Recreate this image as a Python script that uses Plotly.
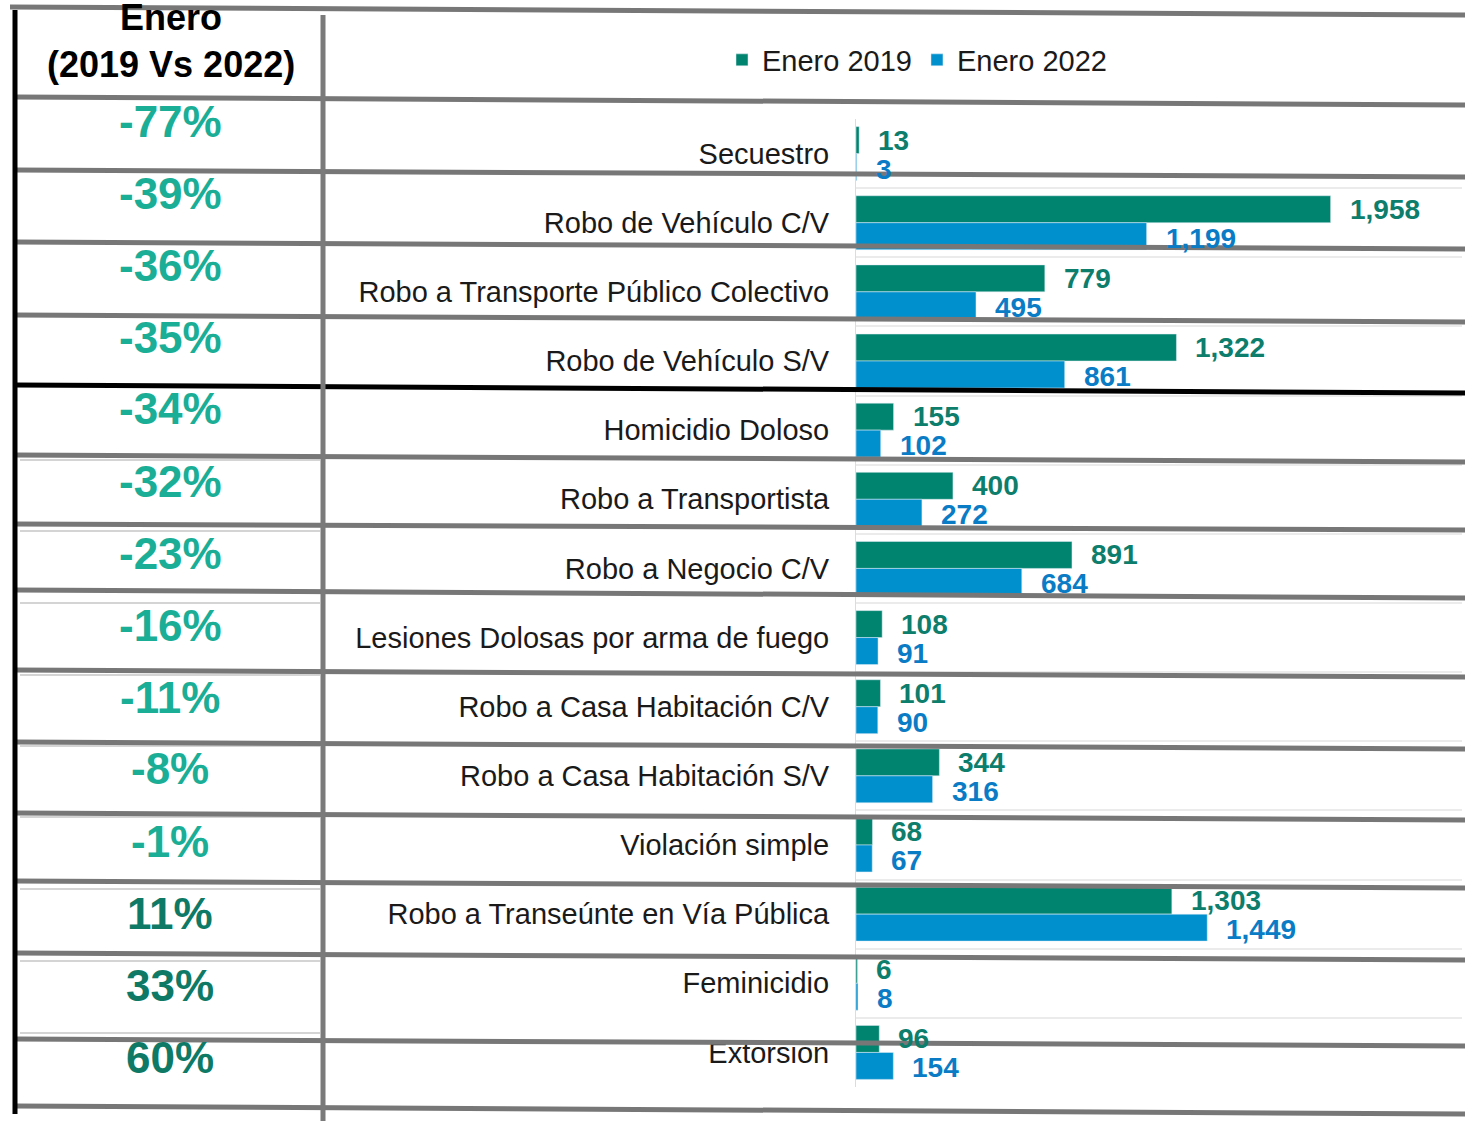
import plotly.graph_objects as go

# ---------------- data ----------------
categories = [
    "Secuestro",
    "Robo de Vehículo C/V",
    "Robo a Transporte Público Colectivo",
    "Robo de Vehículo S/V",
    "Homicidio Doloso",
    "Robo a Transportista",
    "Robo a Negocio C/V",
    "Lesiones Dolosas por arma de fuego",
    "Robo a Casa Habitación C/V",
    "Robo a Casa Habitación S/V",
    "Violación simple",
    "Robo a Transeúnte en Vía Pública",
    "Feminicidio",
    "Extorsion",
]
enero_2019 = [13, 1958, 779, 1322, 155, 400, 891, 108, 101, 344, 68, 1303, 6, 96]
enero_2022 = [3, 1199, 495, 861, 102, 272, 684, 91, 90, 316, 67, 1449, 8, 154]
pct_change = [-77, -39, -36, -35, -34, -32, -23, -16, -11, -8, -1, 11, 33, 60]
header_text = "Enero<br>(2019 Vs 2022)"
series_names = ["Enero 2019", "Enero 2022"]

# ---------------- style ----------------
W, H = 1465, 1121
L, R, T, B = 856, 3, 119, 34
PW, PH = W - L - R, H - T - B
FONT = "Liberation Sans, Arial, Helvetica, sans-serif"
C19_BAR, C22_BAR = "#00846f", "#0090ce"
C19_TXT, C22_TXT = "#0d7d6c", "#0a7cc6"
NEG_PCT, POS_PCT = "#1aae96", "#0e7a66"
BARGAP = 0.22


def px(x):
    return (x - L) / PW


def py(y):
    return (H - B - y) / PH


n = len(categories)
ypos = list(range(n))

fig = go.Figure()
fig.add_trace(go.Bar(y=ypos, x=enero_2019, orientation="h", name=series_names[0],
                     marker=dict(color=C19_BAR), hoverinfo="x+name"))
fig.add_trace(go.Bar(y=ypos, x=enero_2022, orientation="h", name=series_names[1],
                     marker=dict(color=C22_BAR), hoverinfo="x+name"))

annotations = []
off = (1 - BARGAP) / 4
for i in range(n):
    annotations.append(dict(x=enero_2019[i], y=i - off, xref="x", yref="y",
                            text=f"{enero_2019[i]:,}", showarrow=False,
                            xanchor="left", yanchor="middle", xshift=17, yshift=0,
                            font=dict(family=FONT, size=28, color=C19_TXT, weight="bold")))
    annotations.append(dict(x=enero_2022[i], y=i + off, xref="x", yref="y",
                            text=f"{enero_2022[i]:,}", showarrow=False,
                            xanchor="left", yanchor="middle", xshift=17, yshift=-2,
                            font=dict(family=FONT, size=28, color=C22_TXT, weight="bold")))

# header
annotations.append(dict(x=px(171), y=py(41), xref="paper", yref="paper",
                        text=header_text, showarrow=False, xanchor="center", yanchor="middle",
                        font=dict(family=FONT, size=36, color="black", weight="bold")))
# percentages
for i, p in enumerate(pct_change):
    annotations.append(dict(x=px(170), y=py(121 + 72 * i), xref="paper", yref="paper",
                            text=f"{p}%", showarrow=False, xanchor="center", yanchor="middle",
                            font=dict(family=FONT, size=44,
                                      color=NEG_PCT if p < 0 else POS_PCT, weight="bold")))

# table lines
shapes = []
left_y = [7, 97, 170, 242, 315, 385, 455, 524, 590, 670, 742, 813, 881, 953, 1039, 1106]
right_y = [15, 105, 177, 249, 322, 393, 462, 530, 598, 677, 749, 820, 888, 960, 1046, 1114]
for k, (ly, ry) in enumerate(zip(left_y, right_y)):
    x0 = 10 if k == 0 else 15
    shapes.append(dict(type="line", xref="paper", yref="paper",
                       x0=px(x0), y0=py(ly), x1=px(W), y1=py(ry),
                       line=dict(color="black" if k == 5 else "#777777", width=5)))
faint_y = [460, 531, 603, 675, 746, 817, 889, 961, 1033]
for fy in faint_y:
    shapes.append(dict(type="line", xref="paper", yref="paper",
                       x0=px(20), y0=py(fy), x1=px(320), y1=py(fy),
                       line=dict(color="#d4d4d4", width=2), layer="below"))
shapes.append(dict(type="line", xref="paper", yref="paper",
                   x0=px(323), y0=py(15), x1=px(323), y1=py(H),
                   line=dict(color="#7a7a7a", width=5)))
shapes.append(dict(type="line", xref="paper", yref="paper",
                   x0=px(15), y0=py(10), x1=px(15), y1=py(1114),
                   line=dict(color="black", width=5)))

fig.update_layout(
    width=W, height=H,
    margin=dict(l=L, r=R, t=T, b=B, autoexpand=False),
    paper_bgcolor="white", plot_bgcolor="white",
    barmode="group", bargap=BARGAP, bargroupgap=0,
    font=dict(family=FONT, color="#1a1a1a"),
    showlegend=True,
    legend=dict(orientation="h", x=px(917), y=py(60), xanchor="center", yanchor="middle",
                font=dict(family=FONT, size=29, color="#1a1a1a"),
                itemwidth=30, traceorder="normal", bgcolor="rgba(0,0,0,0)"),
    xaxis=dict(range=[0, 2500], showgrid=False, zeroline=False, showticklabels=False,
               showline=False, fixedrange=True),
    yaxis=dict(range=[n - 0.5, -0.5], tickmode="array", tickvals=ypos, ticktext=categories,
               showgrid=False, zeroline=False, showline=True, linecolor="#dcdcdc", linewidth=1,
               ticks="", ticklabelstandoff=20,
               tickfont=dict(family=FONT, size=29, color="#1a1a1a"),
               minor=dict(tick0=0.5, dtick=1, showgrid=True, gridcolor="#ebebeb", gridwidth=2,
                          ticks=""),
               fixedrange=True),
    annotations=annotations,
    shapes=shapes,
)

fig.write_html("out.html", config={"displayModeBar": False},
               post_script="document.body.style.margin='0px';")
